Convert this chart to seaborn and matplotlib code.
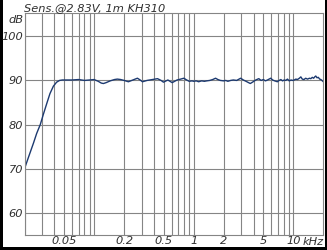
import matplotlib
matplotlib.use("Agg")
import matplotlib.pyplot as plt
import seaborn as sns
import pandas as pd
from matplotlib.patches import Rectangle

# frequency response, Hz / dB
freq = [20, 22, 24.6, 26.5, 28.8, 31, 33.6, 36, 39, 42, 45, 48, 55, 60, 70, 80, 90,
        100, 110, 118, 124, 132, 145, 160, 171, 185, 200, 221, 245, 272, 290, 306,
        340, 385, 433, 470, 497, 550, 608, 680, 740, 796, 850, 900, 960, 1000, 1060,
        1120, 1200, 1280, 1350, 1450, 1550, 1657, 1750, 1850, 2000, 2100, 2200, 2350,
        2500, 2700, 2960, 3150, 3350, 3700, 3950, 4200, 4500, 4750, 5000, 5250, 5500,
        5930, 6200, 6500, 6920, 7200, 7500, 7800, 8100, 8400, 8730, 9100, 9500, 9800,
        10200, 10600, 11000, 11500, 11900, 12300, 12800, 13300, 13900, 14500, 15000,
        15500, 16000, 16400, 16800, 17300, 17800, 18400, 18900, 19400, 20000]
spl = [70.0, 72.7, 75.8, 78.0, 80.0, 82.4, 84.9, 87.0, 88.7, 89.6, 90.0, 90.1, 90.1, 90.1, 90.2, 90.0, 90.1,
       90.2, 89.8, 89.4, 89.3, 89.5, 89.9, 90.2, 90.3, 90.2, 90.0, 89.7, 90.1, 90.5, 90.1, 89.7,
       90.0, 90.2, 90.4, 90.0, 89.6, 90.1, 89.5, 90.1, 90.3, 90.5, 90.1, 89.8, 89.9, 89.8, 89.9,
       89.7, 89.9, 89.8, 89.9, 90.0, 90.2, 90.5, 90.2, 90.0, 89.9, 90.0, 89.8, 90.0,
       90.1, 90.0, 90.5, 90.1, 89.8, 89.3, 89.7, 90.1, 90.4, 90.0, 90.2, 89.9, 90.1,
       90.5, 90.1, 89.9, 89.7, 90.0, 90.2, 89.9, 90.1, 90.0, 90.3, 89.9, 90.1, 90.0,
       90.1, 90.3, 90.2, 90.5, 90.8, 90.3, 90.2, 90.5, 90.3, 90.5, 90.4,
       90.7, 90.5, 90.8, 91.0, 90.6, 90.7, 90.3, 90.2, 90.0, 89.7]

grid_x = [20, 30, 40, 50, 60, 70, 80, 90, 100, 200, 300, 400, 500, 600, 700, 800, 900,
          1000, 2000, 3000, 4000, 5000, 6000, 7000, 8000, 9000, 10000]
label_x = [50, 200, 500, 1000, 2000, 5000, 10000]
label_x_txt = ["0.05", "0.2", "0.5", "1", "2", "5", "10"]
label_y = [60, 70, 80, 90, 100]

df = pd.DataFrame({"f": freq, "db": spl})

sns.set_style("white")
plt.rcParams["font.family"] = ["DejaVu Sans"]

fs = 8.2
txt_col = "#303030"
grid_col = "#858585"

fig = plt.figure(figsize=(3.27, 2.5), dpi=100)
fig.patch.set_facecolor("black")
fig.patches.append(Rectangle((3 / 327, 3.5 / 250), 322 / 327, 246.5 / 250,
                             transform=fig.transFigure, facecolor="white",
                             edgecolor="none", zorder=-10))
ax = fig.add_axes([24.5 / 327, 15 / 250, 298.8 / 327, 221.7 / 250])

sns.lineplot(data=df, x="f", y="db", ax=ax, color="#1d3a70", linewidth=1.0)
ax.set_xscale("log")
ax.set_xlim(20, 20000)
ax.set_ylim(55, 105.2)

ax.set_xticks(grid_x, minor=True)
ax.set_xticks(label_x)
ax.set_xticklabels(label_x_txt)
ax.xaxis.set_minor_formatter(matplotlib.ticker.NullFormatter())
ax.set_yticks(label_y)
ax.grid(True, which="both", axis="x", color=grid_col, linewidth=0.8)
ax.grid(True, which="major", axis="y", color=grid_col, linewidth=0.8)
ax.tick_params(which="both", length=0, pad=1, labelsize=fs, labelcolor=txt_col)
for lbl in ax.get_xticklabels() + ax.get_yticklabels():
    lbl.set_style("italic")
for s in ax.spines.values():
    s.set_color(grid_col)
    s.set_linewidth(0.8)
ax.set_xlabel("")
ax.set_ylabel("")

ax.set_title("Sens.@2.83V, 1m KH310", loc="left", pad=1.5, fontsize=fs,
             style="italic", color=txt_col)
ax.text(-0.004, 103.6, "dB", transform=ax.get_yaxis_transform(), ha="right",
        va="center", fontsize=fs, style="italic", color=txt_col)
ax.text(1.0, -0.008, "kHz", transform=ax.transAxes, ha="right", va="top",
        fontsize=fs, style="italic", color=txt_col)

fig.savefig("out.png", dpi=100, facecolor=fig.get_facecolor())
